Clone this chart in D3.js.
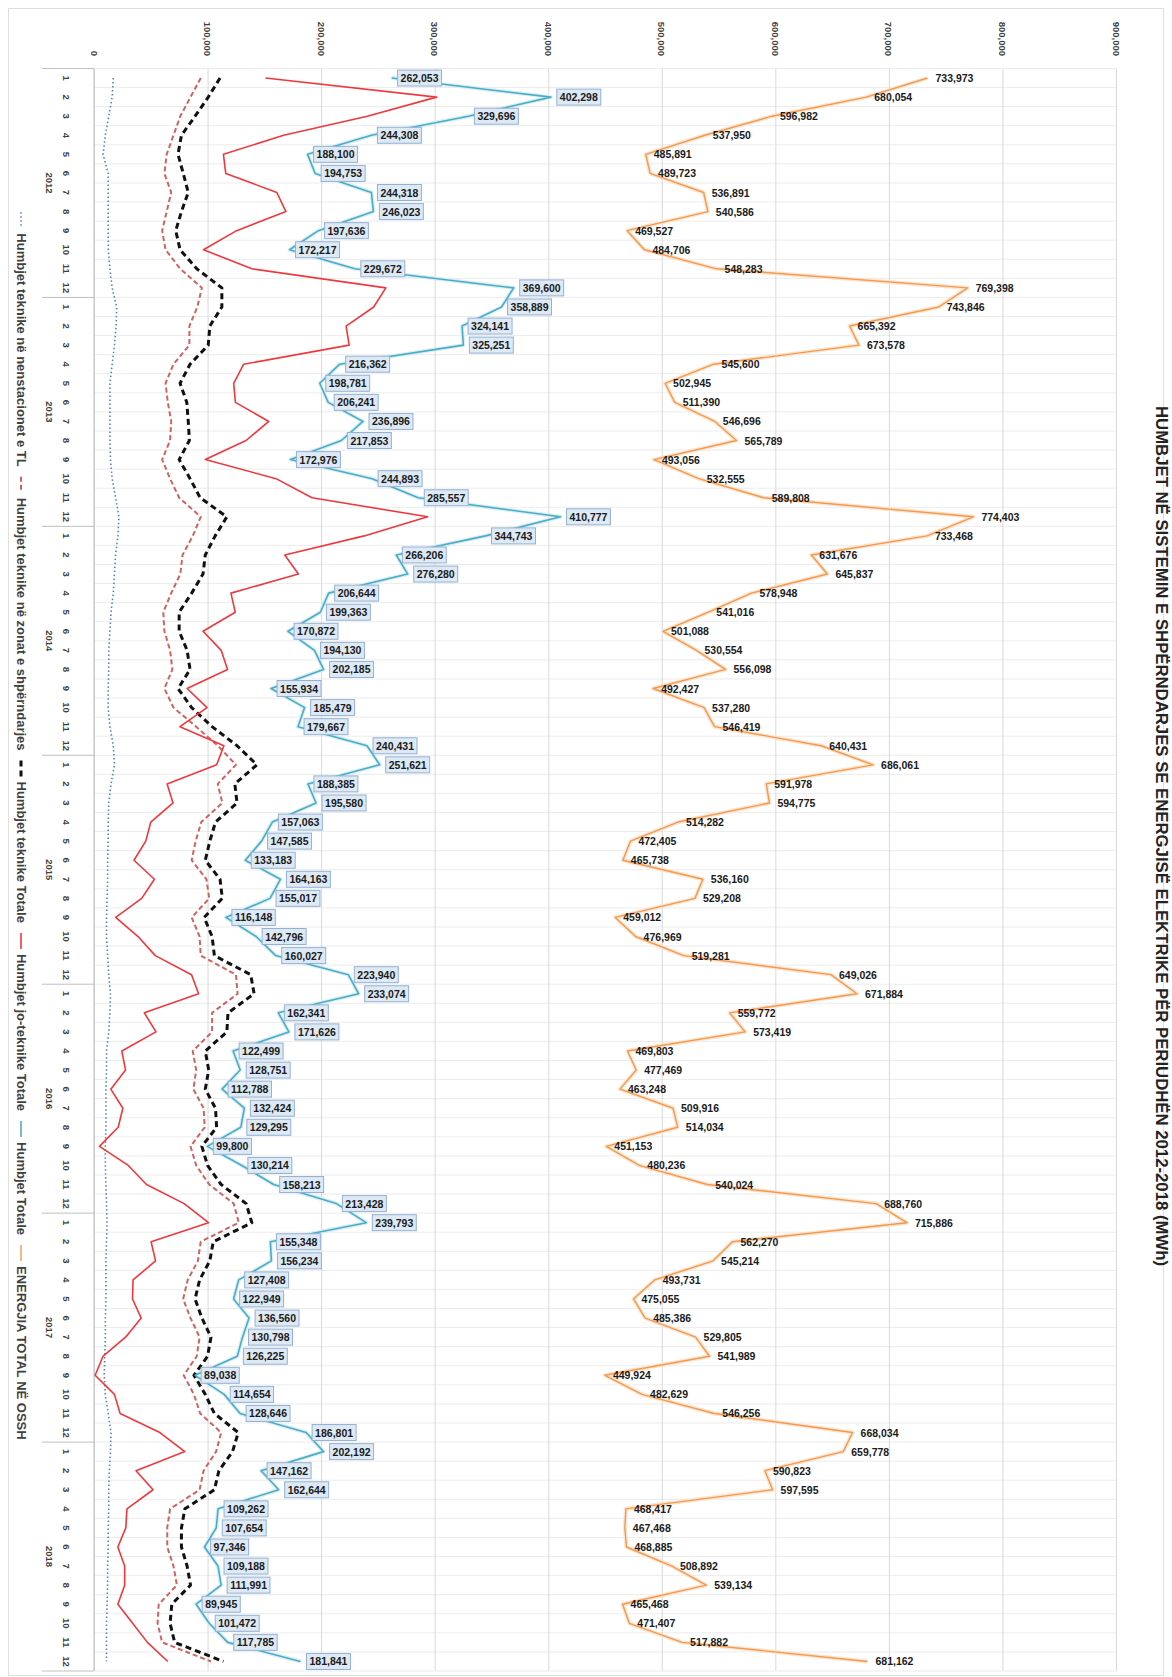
<!DOCTYPE html>
<html><head><meta charset="utf-8">
<script src="https://cdn.jsdelivr.net/npm/d3@7"></script>
<style>body{margin:0;background:#fff}svg{display:block}text{font-family:"Liberation Sans",Arial,sans-serif}</style>
</head><body><svg id="c" width="1172" height="1677"></svg>
<script>
const years = ["2012","2013","2014","2015","2016","2017","2018"];
const monthLabels = ["1","2","3","4","5","6","7","8","9","10","11","12"];
const valueTicks = [0,100000,200000,300000,400000,500000,600000,700000,800000,900000];
const titleText = "HUMBJET  NË SISTEMIN E SHPËRNDARJES SE ENERGJISË ELEKTRIKE PËR PERIUDHËN 2012-2018 (MWh)";
const seriesNames = ["Humbjet teknike në nenstacionet e TL","Humbjet teknike në zonat e shpërndarjes","Humbjet teknike Totale","Humbjet jo-teknike Totale","Humbjet  Totale","ENERGJIA TOTAL NË OSSH"];

// Humbjet Totale (labelled)
const totalLoss = [262053,402298,329696,244308,188100,194753,244318,246023,197636,172217,229672,369600,
358889,324141,325251,216362,198781,206241,236896,217853,172976,244893,285557,410777,
344743,266206,276280,206644,199363,170872,194130,202185,155934,185479,179667,240431,
251621,188385,195580,157063,147585,133183,164163,155017,116148,142796,160027,223940,
233074,162341,171626,122499,128751,112788,132424,129295,99800,130214,158213,213428,
239793,155348,156234,127408,122949,136560,130798,126225,89038,114654,128646,186801,
202192,147162,162644,109262,107654,97346,109188,111991,89945,101472,117785,181841];
// ENERGJIA TOTAL NË OSSH (labelled)
const energyTotal = [733973,680054,596982,537950,485891,489723,536891,540586,469527,484706,548283,769398,
743846,665392,673578,545600,502945,511390,546696,565789,493056,532555,589808,774403,
733468,631676,645837,578948,541016,501088,530554,556098,492427,537280,546419,640431,
686061,591978,594775,514282,472405,465738,536160,529208,459012,476969,519281,649026,
671884,559772,573419,469803,477469,463248,509916,514034,451153,480236,540024,688760,
715886,562270,545214,493731,475055,485386,529805,541989,449924,482629,546256,668034,
659778,590823,597595,468417,467468,468885,508892,539134,465468,471407,517882,681162];
// Humbjet teknike Totale (estimated, thousands)
const techTotal = [111,100.6,89,77,74,78.6,83,77,72,75.8,90.5,112.6,
112.6,102,100.6,84.6,75.8,81.7,83,84,75,84.6,93.5,117,
106.7,98,96,86,75,75,82,84.6,74,86,104,126,
143.5,124,126,107,102,98,111,113,97,104,106,138,
141,118,117,98,101,98,107,108,95,100,112,134,
139,105,102,93,89,95,103,100,88,98,106,127,
122,110,106,80,77,77,82,85,68.5,67,71,114];
// Humbjet jo-teknike Totale (estimated, thousands)
const nonTech = [151,301.7,240.7,167,114,116,161,169,125.6,96.4,139,257,
246.3,222,224.7,131.8,123,124.5,153.9,133.9,98,160.3,192,293.8,
238,168,180,120.6,124.4,96,112,117.6,82,99.5,75.7,114.4,
108,64.4,69.6,50,45.6,35.2,53.2,42,19.1,38.8,54,85.9,
92.1,44.3,54.6,24.5,27.8,14.8,25.4,21.3,4.8,30.2,46.2,79.4,
100.8,50.3,54.2,34.4,33.9,41.6,27.8,8,1,18,23,58,
80,37,52,29,28,21,27,27,21,34,47,65];
// Humbjet teknike në zonat e shpërndarjes (estimated, thousands)
const techZones = [94,85,76,70,64,62,68,64,60,63,76,95,
91,84,84,70,63,65,68,67,60,67,75,94,
87,78,76,68,61,62,67,69,62,70,90,109,
125,109,113,94.5,89.5,86,99,101.5,86,93,94,125,
126.5,104,104,87,90,87.5,96.5,97.5,85,90,101.5,123,
127.5,94,91.5,82.5,78.5,85,93,90.5,79,88,93.5,112,
107.5,96.5,93,67,64.5,64.5,70,73,57,56,60,103];
// Humbjet teknike në nenstacionet e TL (estimated, thousands)
const techTL = [17,16,13,10,8,12.5,12.5,12.5,12.5,12.6,14,16,
20,19.5,18,16,14,14,14,14,14.5,16,19,22,
21,19,18,17,15,14,13,13,12.5,12.5,14,17,
18,15,13,12.5,12.5,12,12,11.5,11,11,12,13,
14.5,14,13,11,11,10.5,10.5,10.5,10,10,10.5,11,
11.5,11,10.5,10.5,10.5,10,10,9.5,9,10,12.5,15,
14.5,13.5,13,13,12.5,12.5,12,12,11.5,11,11,11];

const svg = d3.select("#c");
const X0 = 94, X1 = 1116, Y0 = 68.5, Y1 = 1671;
const n = totalLoss.length;
const idx = d3.range(n);
const x = d3.scaleLinear().domain([0, 900000]).range([X0, X1]);
const y = d3.scaleBand().domain(idx).range([Y0, Y1]).padding(0);
const bw = y.bandwidth();
const yc = i => y(i) + bw / 2;

// outer border
svg.append("rect").attr("x", 8.5).attr("y", 8.5).attr("width", 1155).attr("height", 1667)
  .attr("fill", "none").attr("stroke", "#dedede");

// horizontal month gridlines
svg.append("g").selectAll("line").data(d3.range(n + 1)).join("line")
  .attr("x1", X0).attr("x2", X1)
  .attr("y1", i => Y0 + i * bw).attr("y2", i => Y0 + i * bw)
  .attr("stroke", "#ececec").attr("stroke-width", 1);

// vertical value gridlines via axis
const gx = svg.append("g").attr("transform", `translate(0,${Y0})`)
  .call(d3.axisTop(x).tickValues(valueTicks).tickSize(-(Y1 - Y0)).tickFormat(""));
gx.select(".domain").remove();
gx.selectAll(".tick line").attr("stroke", "#d9d9d9");

// value tick labels (rotated)
svg.append("g").selectAll("text").data(valueTicks).join("text")
  .attr("transform", d => `translate(${x(d)},56) rotate(90)`)
  .attr("text-anchor", "end").attr("dominant-baseline", "central")
  .attr("font-size", 9.5).attr("font-weight", "bold").attr("fill", "#404040")
  .text(d => d3.format(",")(d));

// category axis line
svg.append("line").attr("x1", X0).attr("x2", X0).attr("y1", Y0).attr("y2", Y1)
  .attr("stroke", "#bfbfbf");
// year separators
svg.append("g").selectAll("line").data(d3.range(years.length + 1)).join("line")
  .attr("x1", 42).attr("x2", X0)
  .attr("y1", k => Y0 + k * 12 * bw).attr("y2", k => Y0 + k * 12 * bw)
  .attr("stroke", "#bfbfbf");
// month labels
svg.append("g").selectAll("text").data(idx).join("text")
  .attr("transform", i => `translate(66,${yc(i)}) rotate(90)`)
  .attr("text-anchor", "middle").attr("dominant-baseline", "central")
  .attr("font-size", 9.5).attr("font-weight", "bold").attr("fill", "#404040")
  .text(i => monthLabels[i % 12]);
// year labels
svg.append("g").selectAll("text").data(years).join("text")
  .attr("transform", (d, k) => `translate(49,${Y0 + (k * 12 + 6) * bw}) rotate(90)`)
  .attr("text-anchor", "middle").attr("dominant-baseline", "central")
  .attr("font-size", 9.5).attr("font-weight", "bold").attr("fill", "#404040")
  .text(d => d);

const styles = [
  {data: techTL, k: 1000, stroke: "#5b7fc2", w: 1.6, dash: "1.5,2.5"},
  {data: techZones, k: 1000, stroke: "#d0625f", w: 2, dash: "5,3"},
  {data: techTotal, k: 1000, stroke: "#111", w: 3, dash: "6,4"},
  {data: nonTech, k: 1000, stroke: "#f0383c", w: 1.6, dash: null},
  {data: totalLoss, k: 1, stroke: "#4bacc6", w: 1.6, dash: null},
  {data: energyTotal, k: 1, stroke: "#f39a4f", w: 1.4, dash: null}
];
const line = (arr, k) => d3.line().x((d) => x(d * k)).y((d, i) => yc(i))(arr);

// soft glows
svg.append("path").attr("d", line(energyTotal, 1)).attr("fill", "none")
  .attr("stroke", "#fde4cf").attr("stroke-width", 4).attr("stroke-linejoin", "round");
svg.append("path").attr("d", line(totalLoss, 1)).attr("fill", "none")
  .attr("stroke", "#d8eef5").attr("stroke-width", 4).attr("stroke-linejoin", "round");

styles.forEach(s => {
  svg.append("path").attr("d", line(s.data, s.k)).attr("fill", "none")
    .attr("stroke", s.stroke).attr("stroke-width", s.w)
    .attr("stroke-dasharray", s.dash).attr("stroke-linejoin", "round");
});

// blue labels with boxes
const fmt = d3.format(",");
const bl = svg.append("g").selectAll("g").data(idx).join("g")
  .attr("transform", i => `translate(${x(totalLoss[i]) + 6},${yc(i)})`);
bl.append("rect").attr("class", "bx");
bl.append("text").attr("x", 3).attr("dominant-baseline", "central")
  .attr("font-size", 10.5).attr("font-weight", "bold").attr("fill", "#1a1a1a")
  .text(i => fmt(totalLoss[i]));
bl.each(function() {
  const g = d3.select(this);
  const w = g.select("text").node().getComputedTextLength();
  g.select("rect").attr("x", 0).attr("y", -8).attr("width", w + 6).attr("height", 16)
    .attr("fill", "#dde9f5").attr("stroke", "#93b1d3").attr("stroke-width", 1);
});
// orange labels
svg.append("g").selectAll("text").data(idx).join("text")
  .attr("x", i => x(energyTotal[i]) + 8).attr("y", i => yc(i))
  .attr("dominant-baseline", "central")
  .attr("font-size", 10.5).attr("font-weight", "bold").attr("fill", "#1a1a1a")
  .text(i => fmt(energyTotal[i]));

// legend (rotated, along left edge)
const lg = svg.append("g");
const sampleLen = 16, gapT = 5, gapItem = 10, LX = 21;
const items = seriesNames.map((name, j) => {
  const t = lg.append("text").attr("font-size", 13).attr("font-weight", "bold")
    .attr("fill", "#404040").attr("dominant-baseline", "central").text(name);
  return {t, w: t.node().getComputedTextLength(), s: styles[j]};
});
const total = d3.sum(items, d => sampleLen + gapT + d.w) + gapItem * (items.length - 1);
let pos = 826 - total / 2;
items.forEach(it => {
  lg.append("line").attr("x1", LX).attr("x2", LX).attr("y1", pos).attr("y2", pos + sampleLen)
    .attr("stroke", it.s.stroke).attr("stroke-width", it.s.w).attr("stroke-dasharray", it.s.dash);
  it.t.attr("transform", `translate(${LX},${pos + sampleLen + gapT}) rotate(90)`);
  pos += sampleLen + gapT + it.w + gapItem;
});

// title
svg.append("text").attr("transform", "translate(1161,836) rotate(90)")
  .attr("text-anchor", "middle").attr("dominant-baseline", "central")
  .attr("font-size", 16).attr("font-weight", "bold").attr("fill", "#222")
  .attr("textLength", 860).attr("lengthAdjust", "spacingAndGlyphs")
  .text(titleText);
</script></body></html>
